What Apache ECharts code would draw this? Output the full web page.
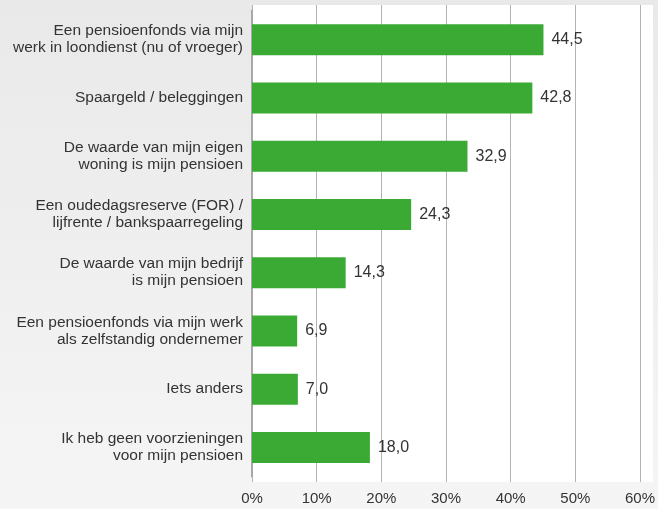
<!DOCTYPE html>
<html>
<head>
<meta charset="utf-8">
<script src="https://cdn.jsdelivr.net/npm/echarts@6/dist/echarts.min.js"></script>
<style>
  html, body { margin: 0; padding: 0; }
  #chart { width: 658px; height: 509px; background: linear-gradient(#e9e9e9, #f5f5f5); }
</style>
</head>
<body>
<div id="chart"></div>
<script>
var categories = [
    'Een pensioenfonds via mijn\nwerk in loondienst (nu of vroeger)',
    'Spaargeld / beleggingen',
    'De waarde van mijn eigen\nwoning is mijn pensioen',
    'Een oudedagsreserve (FOR) /\nlijfrente / bankspaarregeling',
    'De waarde van mijn bedrijf\nis mijn pensioen',
    'Een pensioenfonds via mijn werk\nals zelfstandig ondernemer',
    'Iets anders',
    'Ik heb geen voorzieningen\nvoor mijn pensioen'
];
var values = [44.5, 42.8, 32.9, 24.3, 14.3, 6.9, 7.0, 18.0];
var tickLabels = ['0%', '10%', '20%', '30%', '40%', '50%', '60%'];

var font = 'Liberation Sans';
var chart = echarts.init(document.getElementById('chart'));
var option = {
    animation: false,
    textStyle: { fontFamily: font },
    graphic: [{
        type: 'rect',
        z: -10,
        shape: { x: 252, y: 5, width: 401, height: 477 },
        style: { fill: '#ffffff' }
    }],
    grid: [
        { left: 252, width: 393, top: 5, height: 477 },
        { left: 252, width: 393, top: 10.5, height: 466 }
    ],
    xAxis: [{
        gridIndex: 0,
        type: 'value',
        min: 0, max: 60, interval: 10,
        axisLine: { show: false },
        axisTick: { show: false },
        splitLine: { lineStyle: { color: '#b4b4b4', width: 1 } },
        axisLabel: {
            color: '#333', fontSize: 15, fontFamily: font, margin: 9,
            formatter: function (v) { return tickLabels[v / 10]; }
        }
    }, {
        gridIndex: 1,
        type: 'value',
        min: 0, max: 60,
        show: false
    }],
    yAxis: [{
        gridIndex: 0,
        type: 'category',
        data: categories,
        show: false
    }, {
        gridIndex: 1,
        type: 'category',
        inverse: true,
        data: categories,
        axisLine: { lineStyle: { color: '#a8a8a8', width: 2 } },
        axisTick: { show: false },
        axisLabel: {
            color: '#333', fontSize: 15.5, fontFamily: font, margin: 9,
            lineHeight: 17, align: 'right'
        }
    }],
    series: [{
        type: 'bar',
        xAxisIndex: 1,
        yAxisIndex: 1,
        data: values,
        barWidth: 31,
        itemStyle: { color: '#3aaa35' },
        label: {
            show: true,
            position: 'right',
            distance: 8,
            color: '#333',
            fontSize: 16,
            fontFamily: font,
            formatter: function (p) { return p.value.toFixed(1).replace('.', ','); }
        }
    }]
};
chart.setOption(option);
</script>
</body>
</html>
